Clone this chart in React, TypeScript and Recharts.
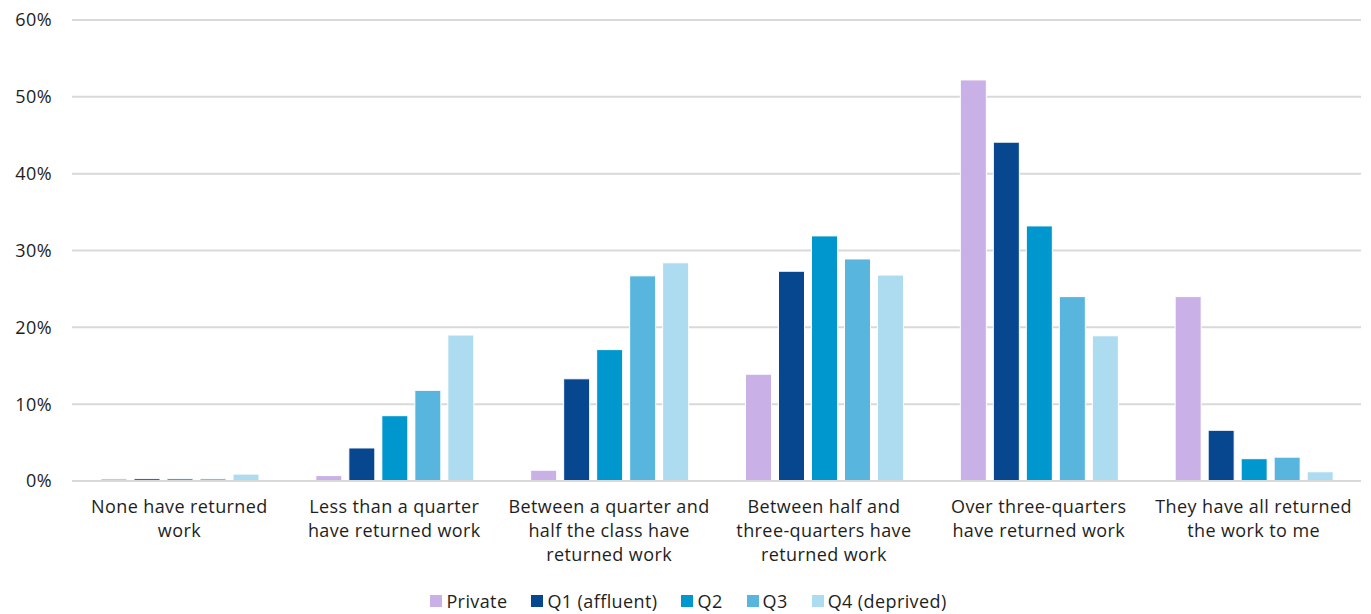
import React from "react";
import { BarChart, Bar, XAxis, YAxis, CartesianGrid, Legend } from "recharts";

const categories = [
  "None have returned\nwork",
  "Less than a quarter\nhave returned work",
  "Between a quarter and\nhalf the class have\nreturned work",
  "Between half and\nthree-quarters have\nreturned work",
  "Over three-quarters\nhave returned work",
  "They have all returned\nthe work to me",
];

const privateVals = [0.3, 0.7, 1.4, 13.9, 52.2, 24.0];
const q1Vals = [0.3, 4.3, 13.3, 27.3, 44.1, 6.6];
const q2Vals = [0.3, 8.5, 17.1, 31.9, 33.2, 2.9];
const q3Vals = [0.3, 11.8, 26.7, 28.9, 24.0, 3.1];
const q4Vals = [0.9, 19.0, 28.4, 26.8, 18.9, 1.2];

const yTicks = [0, 10, 20, 30, 40, 50, 60];

const seriesNames = ["Private", "Q1 (affluent)", "Q2", "Q3", "Q4 (deprived)"];
const seriesKeys = ["p", "q1", "q2", "q3", "q4"];
const seriesColors = ["#C9B0E7", "#06478F", "#0097CE", "#58B6DE", "#ADDBF0"];

const data = categories.map((c, i) => ({
  name: c,
  p: privateVals[i],
  q1: q1Vals[i],
  q2: q2Vals[i],
  q3: q3Vals[i],
  q4: q4Vals[i],
}));

const FONT = "'Open Sans', 'Noto Sans', sans-serif";
const LS = 0.4;

const XTick = (props: any) => {
  const { x, y, payload } = props;
  const lines = String(payload.value).split("\n");
  return (
    <text
      x={x}
      y={y}
      textAnchor="middle"
      fill="#1e1e1e"
      fontSize={18}
      fontFamily={FONT}
      letterSpacing={LS}
    >
      {lines.map((l, i) => (
        <tspan key={i} x={x} dy={i === 0 ? 24 : 24}>
          {l}
        </tspan>
      ))}
    </text>
  );
};

const renderLegend = () => (
  <div
    style={{
      display: "flex",
      justifyContent: "center",
      alignItems: "center",
      fontFamily: FONT,
      fontSize: 18,
      letterSpacing: LS,
      color: "#1e1e1e",
      height: 26,
      paddingLeft: 32,
    }}
  >
    {seriesNames.map((n, i) => (
      <div key={n} style={{ display: "flex", alignItems: "center", marginRight: 24 }}>
        <span
          style={{
            display: "inline-block",
            width: 12,
            height: 12,
            background: seriesColors[i],
            marginRight: 4,
          }}
        />
        <span>{n}</span>
      </div>
    ))}
  </div>
);

export default function App() {
  return (
    <BarChart
      width={1363}
      height={606}
      data={data}
      margin={{ top: 12, right: 10, bottom: 0, left: 0 }}
      barCategoryGap="13.5%"
      barGap={7}
    >
      <CartesianGrid vertical={false} stroke="#D9D9D9" strokeWidth={2} />
      <XAxis
        dataKey="name"
        tick={<XTick />}
        tickLine={false}
        axisLine={{ stroke: "#D9D9D9", strokeWidth: 2 }}
        height={107}
        interval={0}
      />
      <YAxis
        domain={[0, 60]}
        ticks={yTicks}
        tickFormatter={(v: number) => `${v}%`}
        axisLine={false}
        tickLine={false}
        tickMargin={14}
        width={64}
        tick={{ fill: "#1e1e1e", fontSize: 18, fontFamily: FONT, letterSpacing: LS }}
      />
      <Legend verticalAlign="bottom" content={renderLegend} />
      {seriesKeys.map((k, i) => (
        <Bar
          key={k}
          dataKey={k}
          name={seriesNames[i]}
          fill={seriesColors[i]}
          stroke="#FFFFFF"
          strokeWidth={1}
          isAnimationActive={false}
        />
      ))}
    </BarChart>
  );
}
